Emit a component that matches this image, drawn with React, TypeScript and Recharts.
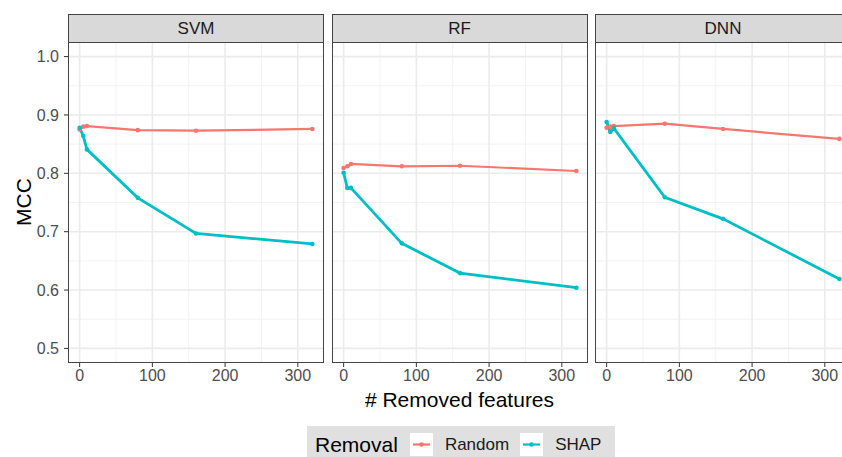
import React from 'react';
import { LineChart, Line, XAxis, YAxis, CartesianGrid } from 'recharts';

// number of removed features (x values shared by all panels)
const removed = [0, 5, 10, 80, 160, 320];

const svmRandom = [0.875, 0.880, 0.881, 0.874, 0.873, 0.876];
const svmShap = [0.878, 0.864, 0.841, 0.758, 0.697, 0.679];
const rfRandom = [0.809, 0.812, 0.816, 0.812, 0.813, 0.804];
const rfShap = [0.801, 0.775, 0.775, 0.680, 0.629, 0.604];
const dnnRandom = [0.878, 0.880, 0.881, 0.885, 0.876, 0.859];
const dnnShap = [0.888, 0.871, 0.877, 0.759, 0.722, 0.619];

const models = ['SVM', 'RF', 'DNN'];
const seriesNames = ['Random', 'SHAP'];
const seriesColors = ['#F8766D', '#00BFC4'];

const xTicks = [0, 100, 200, 300];
const xMinor = [50, 150, 250];
const yTicks = [0.5, 0.6, 0.7, 0.8, 0.9, 1.0];
const yMinor = [0.55, 0.65, 0.75, 0.85, 0.95];

const font = '"Liberation Sans", Arial, sans-serif';

const buildRows = (rand: number[], shap: number[]) =>
  removed.map((x, i) => ({ x, Random: rand[i], SHAP: shap[i] }));

const panelData = [
  buildRows(svmRandom, svmShap),
  buildRows(rfRandom, rfShap),
  buildRows(dnnRandom, dnnShap),
];

const PLOT_TOP = 42;
const PLOT_H = 321;
const PLOT_W = 256;
const X_AXIS_H = 30;
const Y_AXIS_W = 68;
const panelLeft = [68, 331.5, 595];

const Panel: React.FC<{ idx: number }> = ({ idx }) => {
  const withY = idx === 0;
  const left = withY ? panelLeft[idx] - Y_AXIS_W : panelLeft[idx];
  return (
    <div style={{ position: 'absolute', left, top: PLOT_TOP }}>
      <LineChart
        width={PLOT_W + (withY ? Y_AXIS_W : 0)}
        height={PLOT_H + X_AXIS_H}
        data={panelData[idx]}
        margin={{ top: 0, right: 0, bottom: 0, left: 0 }}
      >
        <CartesianGrid
          stroke="#F2F2F2"
          strokeWidth={1}
          verticalValues={xMinor}
          horizontalValues={yMinor}
        />
        <CartesianGrid
          stroke="#EBEBEB"
          strokeWidth={1.6}
          verticalValues={xTicks}
          horizontalValues={yTicks}
        />
        <XAxis
          type="number"
          dataKey="x"
          domain={[-16, 336]}
          ticks={xTicks}
          interval={0}
          height={X_AXIS_H}
          axisLine={false}
          tickSize={4}
          tickMargin={3}
          tickLine={{ stroke: '#333333' }}
          tick={{ fill: '#4D4D4D', fontSize: 16, fontFamily: font }}
        />
        <YAxis
          type="number"
          domain={[0.475, 1.025]}
          ticks={yTicks}
          interval={0}
          hide={!withY}
          width={Y_AXIS_W}
          axisLine={false}
          tickSize={4}
          tickMargin={5}
          tickLine={{ stroke: '#333333' }}
          tickFormatter={(v: number) => v.toFixed(1)}
          tick={{ fill: '#4D4D4D', fontSize: 16, fontFamily: font }}
        />
        {seriesNames.map((name, i) => (
          <Line
            key={name}
            dataKey={name}
            type="linear"
            stroke={seriesColors[i]}
            strokeWidth={i === 0 ? 2.2 : 2.8}
            dot={{ r: 2.3, fill: seriesColors[i], stroke: seriesColors[i], strokeWidth: 0 }}
            activeDot={false}
            isAnimationActive={false}
          />
        ))}
      </LineChart>
      {/* panel border */}
      <div
        style={{
          position: 'absolute',
          left: withY ? Y_AXIS_W : 0,
          top: 0,
          width: PLOT_W,
          height: PLOT_H,
          border: '1px solid #444444',
          boxSizing: 'border-box',
          pointerEvents: 'none',
        }}
      />
    </div>
  );
};

export default function App() {
  return (
    <div
      style={{
        position: 'absolute',
        left: 0,
        top: 0,
        width: 842,
        height: 457,
        overflow: 'hidden',
        background: '#ffffff',
        fontFamily: font,
      }}
    >
      {models.map((m, i) => (
        <div
          key={m}
          style={{
            position: 'absolute',
            left: panelLeft[i],
            top: 14,
            width: PLOT_W,
            height: PLOT_TOP - 14 + 1,
            background: '#D9D9D9',
            border: '1px solid #444444',
            boxSizing: 'border-box',
            color: '#1A1A1A',
            fontSize: 17,
            display: 'flex',
            alignItems: 'center',
            justifyContent: 'center',
          }}
        >
          {m}
        </div>
      ))}
      {models.map((m, i) => (
        <Panel key={m} idx={i} />
      ))}
      <div
        style={{
          position: 'absolute',
          left: 24,
          top: 202,
          transform: 'translate(-50%, -50%) rotate(-90deg)',
          fontSize: 21,
          color: '#000',
          whiteSpace: 'nowrap',
        }}
      >
        MCC
      </div>
      <div
        style={{
          position: 'absolute',
          left: 459.5,
          top: 400,
          transform: 'translate(-50%, -50%)',
          fontSize: 21,
          color: '#000',
          whiteSpace: 'nowrap',
        }}
      >
        # Removed features
      </div>
      {/* legend */}
      <div
        style={{
          position: 'absolute',
          left: 307,
          top: 426,
          width: 308,
          height: 37,
          background: '#E0E0E0',
          display: 'flex',
          alignItems: 'center',
          paddingLeft: 8,
          boxSizing: 'border-box',
        }}
      >
        <span style={{ fontSize: 21, color: '#000', marginRight: 12 }}>Removal</span>
        {seriesNames.map((name, i) => (
          <div key={name} style={{ display: 'flex', alignItems: 'center', marginRight: 11 }}>
            <svg width={23} height={23} style={{ background: '#ffffff' }}>
              <line x1={3} y1={11.5} x2={20} y2={11.5} stroke={seriesColors[i]} strokeWidth={2.2} />
              <circle cx={11.5} cy={11.5} r={2.3} fill={seriesColors[i]} />
            </svg>
            <span style={{ fontSize: 17, color: '#1A1A1A', marginLeft: 12 }}>{name}</span>
          </div>
        ))}
      </div>
    </div>
  );
}
